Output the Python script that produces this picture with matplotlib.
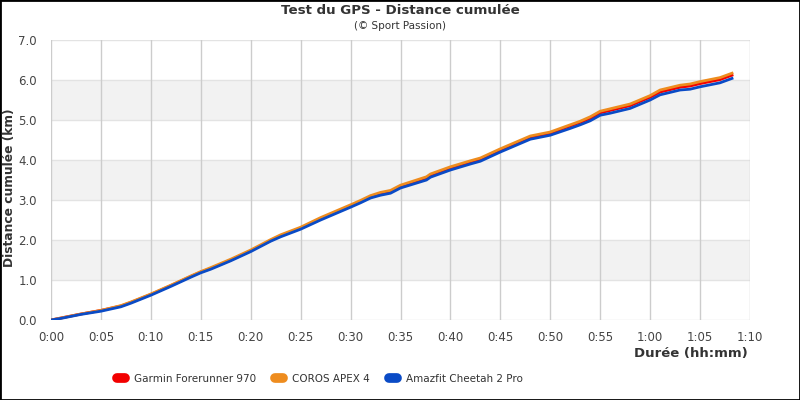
import matplotlib
matplotlib.use("Agg")
import matplotlib.pyplot as plt
from matplotlib.lines import Line2D
from matplotlib.patches import Rectangle

# ---- data (minutes, km) ----
minutes = [0, 1, 3, 5, 7, 8, 10, 12, 14, 15, 16, 18, 20, 22, 23, 25, 27, 30,
           31, 32, 33, 34, 35, 37.6, 38, 40, 42, 43, 45, 48, 50, 52, 53, 54,
           55, 56, 58, 60, 61, 63, 64, 65, 67, 68.2]

amazfit = [0.00, 0.04, 0.14, 0.22, 0.33, 0.42, 0.62, 0.84, 1.07, 1.18, 1.27,
           1.48, 1.71, 1.97, 2.08, 2.27, 2.50, 2.82, 2.93, 3.05, 3.12, 3.17,
           3.30, 3.50, 3.57, 3.75, 3.90, 3.97, 4.20, 4.52, 4.62, 4.79, 4.88,
           4.98, 5.12, 5.17, 5.29, 5.50, 5.63, 5.75, 5.77, 5.83, 5.93, 6.04]

garmin = [0.00, 0.05, 0.15, 0.24, 0.35, 0.44, 0.64, 0.86, 1.09, 1.20, 1.29,
          1.50, 1.73, 1.99, 2.11, 2.30, 2.53, 2.85, 2.96, 3.08, 3.16, 3.21,
          3.34, 3.55, 3.62, 3.80, 3.95, 4.02, 4.25, 4.57, 4.67, 4.85, 4.94,
          5.04, 5.18, 5.24, 5.36, 5.57, 5.70, 5.82, 5.85, 5.91, 6.01, 6.12]

coros = [0.00, 0.05, 0.15, 0.24, 0.36, 0.45, 0.65, 0.87, 1.10, 1.21, 1.31,
         1.52, 1.75, 2.01, 2.13, 2.32, 2.56, 2.88, 2.99, 3.11, 3.19, 3.24,
         3.37, 3.58, 3.65, 3.83, 3.98, 4.05, 4.28, 4.60, 4.70, 4.88, 4.97,
         5.08, 5.22, 5.28, 5.40, 5.61, 5.75, 5.87, 5.90, 5.96, 6.06, 6.17]

series_names = ["Garmin Forerunner 970", "COROS APEX 4", "Amazfit Cheetah 2 Pro"]
series_colors = ["#f20000", "#ee8c1e", "#0a4bc6"]

xticks = list(range(0, 71, 5))
xtick_labels = ["0:00", "0:05", "0:10", "0:15", "0:20", "0:25", "0:30", "0:35",
                "0:40", "0:45", "0:50", "0:55", "1:00", "1:05", "1:10"]
yticks = [0, 1, 2, 3, 4, 5, 6, 7]

plt.rcParams['font.family'] = ['DejaVu Sans']

fig = plt.figure(figsize=(8, 4), dpi=100)
ax = fig.add_axes([51/800, 1 - 320/400, 699/800, 280/400])

# bands
for lo in (1, 3, 5):
    ax.axhspan(lo, lo + 1, color="#f2f2f2", zorder=0, lw=0)
for y in yticks:
    ax.axhline(y, color="#e3e3e3", lw=1, zorder=0.5)
for x in xticks:
    ax.axvline(x, color="#cccccc", lw=1, zorder=0.6)

for vals, name, col in zip([garmin, coros, amazfit], series_names, series_colors):
    ax.plot(minutes, vals, color=col, lw=2.0, label=name, zorder=3,
            solid_joinstyle="miter")

ax.set_xlim(0, 70)
ax.set_ylim(0, 7)
ax.set_xticks(xticks)
ax.set_xticklabels(xtick_labels)
ax.set_yticks(yticks)
ax.set_yticklabels([f"{v:.1f}" for v in yticks])
ax.tick_params(length=0, labelsize=8.5, labelcolor="#444444")
ax.tick_params(axis="x", pad=8)
ax.tick_params(axis="y", pad=10)
for s in ax.spines.values():
    s.set_visible(False)

fig.text(0.5, 1 - 11/400, "Test du GPS - Distance cumulée", ha="center",
         va="center", fontsize=9.6, fontweight="bold", color="#333333")
fig.text(0.5, 1 - 26/400, "(© Sport Passion)", ha="center", va="center",
         fontsize=7.5, color="#333333")
fig.text(748/800, 1 - 353/400, "Durée (hh:mm)", ha="right", va="center",
         fontsize=9.5, fontweight="bold", color="#333333")
fig.text(10/800, 1 - 188/400, "Distance cumulée (km)", ha="center", va="center",
         rotation=90, fontsize=8.8, fontweight="bold", color="#333333")

handles = [Line2D([0], [0], color=c, lw=7, solid_capstyle="round")
           for c in series_colors]
fig.legend(handles, series_names, loc="center left",
           bbox_to_anchor=(108/800, 1 - 379/400), ncol=3, frameon=False,
           fontsize=7.5, handlelength=0.75, handletextpad=0.85,
           columnspacing=1.85, labelcolor="#333333")

fig.add_artist(Rectangle((0, 0), 1, 1, transform=fig.transFigure,
                         fill=False, edgecolor="black", lw=2, zorder=10))

fig.savefig("out.png", dpi=100)
